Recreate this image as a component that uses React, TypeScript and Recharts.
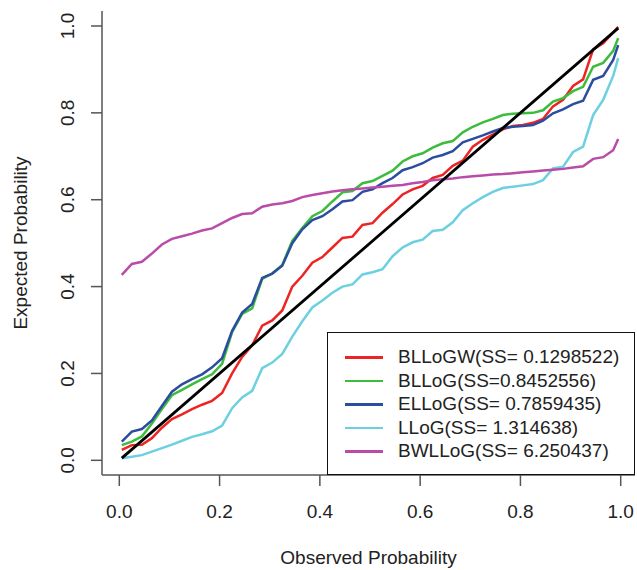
import React from "react";
import { LineChart, Line, XAxis, YAxis, ReferenceLine, Legend } from "recharts";

// observed probabilities (x) and expected probabilities for each fitted model
const observed = [
  0.005, 0.025, 0.045, 0.065, 0.085, 0.105, 0.125, 0.145, 0.165, 0.185,
  0.205, 0.225, 0.245, 0.265, 0.285, 0.305, 0.325, 0.345, 0.365, 0.385,
  0.405, 0.425, 0.445, 0.465, 0.485, 0.505, 0.525, 0.545, 0.565, 0.585,
  0.605, 0.625, 0.645, 0.665, 0.685, 0.705, 0.725, 0.745, 0.765, 0.785,
  0.805, 0.825, 0.845, 0.865, 0.885, 0.905, 0.925, 0.945, 0.965, 0.985,
  0.995,
];

const bllogw = [
  0.024, 0.035, 0.036, 0.051, 0.075, 0.095, 0.106, 0.118, 0.128, 0.137,
  0.155, 0.2, 0.238, 0.265, 0.31, 0.322, 0.345, 0.4, 0.425, 0.455,
  0.468, 0.49, 0.512, 0.515, 0.542, 0.546, 0.57, 0.59, 0.612, 0.624,
  0.632, 0.65, 0.657, 0.678, 0.69, 0.722, 0.738, 0.75, 0.762, 0.77,
  0.772, 0.777, 0.786, 0.815, 0.83, 0.862, 0.877, 0.946, 0.96, 0.985,
  0.998,
];

const bllog = [
  0.035, 0.043, 0.055, 0.085, 0.118, 0.15, 0.162, 0.175, 0.187, 0.198,
  0.222, 0.295, 0.337, 0.35, 0.418, 0.43, 0.45, 0.505, 0.535, 0.562,
  0.574, 0.596, 0.617, 0.62, 0.638, 0.643, 0.655, 0.667, 0.688, 0.7,
  0.707, 0.72, 0.73, 0.735, 0.755, 0.768, 0.778, 0.786, 0.795, 0.798,
  0.799, 0.8, 0.806, 0.826, 0.834, 0.85, 0.86, 0.906, 0.915, 0.943,
  0.972,
];

const ellog = [
  0.043, 0.066, 0.072, 0.092, 0.125, 0.158, 0.175, 0.187, 0.198, 0.214,
  0.235, 0.298, 0.34, 0.36, 0.42, 0.43, 0.448, 0.5, 0.532, 0.553,
  0.562, 0.578, 0.596, 0.599, 0.618, 0.624, 0.638, 0.65, 0.668, 0.675,
  0.684, 0.697, 0.703, 0.712, 0.732, 0.74, 0.748, 0.757, 0.765, 0.768,
  0.77, 0.772, 0.782, 0.799, 0.808, 0.82, 0.828, 0.876, 0.885, 0.922,
  0.956,
];

const llog = [
  0.005, 0.008, 0.012, 0.02, 0.028, 0.036, 0.045, 0.054, 0.06, 0.067,
  0.08, 0.12, 0.145, 0.16, 0.212, 0.225, 0.245, 0.285, 0.32, 0.352,
  0.368, 0.386, 0.4, 0.405, 0.428, 0.433, 0.44, 0.47, 0.49, 0.502,
  0.508, 0.528, 0.531, 0.548, 0.576, 0.592, 0.606, 0.618, 0.627, 0.63,
  0.633, 0.636, 0.645, 0.672, 0.676, 0.71, 0.722, 0.795, 0.83, 0.885,
  0.926,
];

const bwllog = [
  0.427, 0.452, 0.457, 0.476, 0.497, 0.51, 0.516, 0.522, 0.529, 0.534,
  0.546, 0.558, 0.567, 0.569, 0.584, 0.589, 0.592, 0.597, 0.606, 0.611,
  0.615, 0.619, 0.622, 0.624, 0.626, 0.628, 0.63, 0.632, 0.634, 0.638,
  0.641, 0.645, 0.647, 0.649, 0.652, 0.654, 0.656, 0.658, 0.659, 0.661,
  0.663, 0.665, 0.667, 0.669, 0.671, 0.674, 0.677, 0.694, 0.698, 0.714,
  0.74,
];

const diagonalEnds = [0.005, 0.995];
const tickValues = [0, 0.2, 0.4, 0.6, 0.8, 1.0];
const tickLabels = ["0.0", "0.2", "0.4", "0.6", "0.8", "1.0"];

const series = [
  { key: "BLLoGW", label: "BLLoGW(SS= 0.1298522)", values: bllogw, color: "#ee2424" },
  { key: "BLLoG", label: "BLLoG(SS=0.8452556)", values: bllog, color: "#3cbc3c" },
  { key: "ELLoG", label: "ELLoG(SS= 0.7859435)", values: ellog, color: "#2c4ca0" },
  { key: "LLoG", label: "LLoG(SS= 1.314638)", values: llog, color: "#6cd0e0" },
  { key: "BWLLoG", label: "BWLLoG(SS= 6.250437)", values: bwllog, color: "#b84ca8" },
];

const chartData = observed.map((p, i) => {
  const row: any = { p };
  series.forEach((s) => {
    row[s.key] = s.values[i];
  });
  return row;
});

const FONT = "'Liberation Sans', Arial, sans-serif";
const AXIS = "#555";
const X_DOMAIN = [-0.0345, 1.0285];
const Y_DOMAIN = [-0.0338, 1.0345];
const boxLine = { stroke: AXIS, strokeWidth: 1.5 };

const labelFor = (v: number) => tickLabels[tickValues.indexOf(v)] ?? String(v);

function YTick(props: any) {
  const { x, y, payload } = props;
  return (
    <text
      x={x}
      y={y}
      transform={`rotate(-90, ${x}, ${y})`}
      textAnchor="middle"
      fontSize={19}
      fontFamily={FONT}
      fill="#222"
    >
      {labelFor(payload.value)}
    </text>
  );
}

function XTick(props: any) {
  const { x, y, payload } = props;
  return (
    <text x={x} y={y} dy="0.71em" textAnchor="middle" fontSize={19} fontFamily={FONT} fill="#222">
      {labelFor(payload.value)}
    </text>
  );
}

function LegendBox() {
  return (
    <div
      style={{
        position: "relative",
        width: 308,
        height: 143,
        boxSizing: "border-box",
        border: "1.5px solid #111",
        background: "#fff",
        fontFamily: FONT,
        fontSize: 19,
        color: "#222",
      }}
    >
      {series.map((s, i) => (
        <div
          key={s.key}
          style={{ position: "absolute", left: 0, top: 24 + i * 23.5 - 12, height: 24, width: "100%" }}
        >
          <div
            style={{
              position: "absolute",
              left: 17,
              top: 11,
              width: 38,
              height: 2.5,
              background: s.color,
            }}
          />
          <div style={{ position: "absolute", left: 70, top: 0, lineHeight: "24px", whiteSpace: "nowrap" }}>
            {s.label}
          </div>
        </div>
      ))}
    </div>
  );
}

export default function App() {
  return (
    <div style={{ position: "absolute", left: 0, top: 0, width: 637, height: 570 }}>
      <LineChart
        width={637}
        height={570}
        data={chartData}
        margin={{ top: 11, right: 2, left: 0, bottom: 0 }}
      >
        <XAxis
          dataKey="p"
          type="number"
          domain={X_DOMAIN}
          allowDataOverflow
          ticks={tickValues}
          interval={0}
          height={95}
          tickSize={11}
          tickMargin={19}
          tickLine={boxLine}
          axisLine={boxLine}
          tick={<XTick />}
          label={{
            content: (props: any) => {
              const vb = props.viewBox;
              return (
                <text
                  x={vb.x + vb.width / 2}
                  y={vb.y + vb.height - 6}
                  textAnchor="middle"
                  fontSize={19}
                  fontFamily={FONT}
                  fill="#222"
                >
                  Observed Probability
                </text>
              );
            },
          }}
        />
        <XAxis
          xAxisId="top"
          orientation="top"
          type="number"
          domain={X_DOMAIN}
          allowDataOverflow
          height={0}
          tick={false}
          tickLine={false}
          axisLine={boxLine}
        />
        <YAxis
          type="number"
          domain={Y_DOMAIN}
          allowDataOverflow
          ticks={tickValues}
          interval={0}
          width={102}
          tickSize={11}
          tickMargin={17}
          tickLine={boxLine}
          axisLine={boxLine}
          tick={<YTick />}
          label={{
            content: (props: any) => {
              const vb = props.viewBox;
              const cx = vb.x + 26.5;
              const cy = vb.y + vb.height / 2;
              return (
                <text
                  x={cx}
                  y={cy}
                  transform={`rotate(-90, ${cx}, ${cy})`}
                  textAnchor="middle"
                  fontSize={19}
                  fontFamily={FONT}
                  fill="#222"
                >
                  Expected Probability
                </text>
              );
            },
          }}
        />
        <YAxis
          yAxisId="right"
          orientation="right"
          type="number"
          domain={Y_DOMAIN}
          allowDataOverflow
          width={0}
          tick={false}
          tickLine={false}
          axisLine={boxLine}
        />
        {series.map((s) => (
          <Line
            key={s.key}
            type="linear"
            dataKey={s.key}
            stroke={s.color}
            strokeWidth={2.5}
            dot={false}
            activeDot={false}
            isAnimationActive={false}
          />
        ))}
        <ReferenceLine
          segment={[
            { x: diagonalEnds[0], y: diagonalEnds[0] },
            { x: diagonalEnds[1], y: diagonalEnds[1] },
          ]}
          stroke="#000"
          strokeWidth={2.8}
        />
        <Legend
          layout="vertical"
          align="center"
          verticalAlign="middle"
          content={() => <LegendBox />}
          wrapperStyle={{ position: "absolute", left: 327, top: 332, width: 308, height: 143 }}
        />
      </LineChart>
    </div>
  );
}
